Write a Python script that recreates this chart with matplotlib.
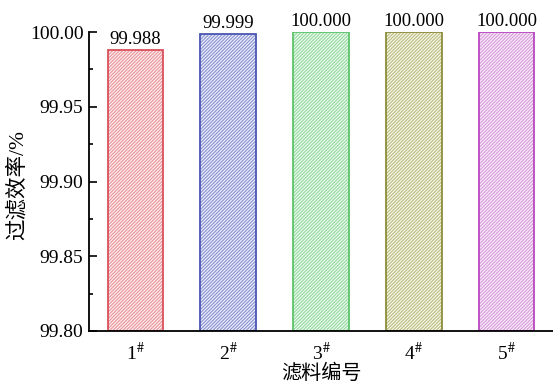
import matplotlib
matplotlib.use("Agg")
import matplotlib.pyplot as plt

categories = ["1", "2", "3", "4", "5"]
values = [99.988, 99.999, 100.000, 100.000, 100.000]
labels = ["99.988", "99.999", "100.000", "100.000", "100.000"]
edge_colors = ["#d9505c", "#4b56b2", "#5cc46a", "#8c8c3c", "#b848c0"]
hatch_colors = ["#eb99a0", "#8d96d4", "#9adca4", "#c0c088", "#daa0de"]
fill_colors = ["#fcf2f3", "#f3f4fb", "#f1faf2", "#f9f9ee", "#fbf1fb"]
yticks = [99.80, 99.85, 99.90, 99.95, 100.00]

plt.rcParams['font.family'] = ['Liberation Serif', 'Noto Sans CJK SC']
plt.rcParams['mathtext.fontset'] = 'stix'
plt.rcParams['hatch.linewidth'] = 0.9

fig = plt.figure(figsize=(5.53, 3.86), dpi=100)
ax = fig.add_axes([0.161, 0.1425, 0.839, 0.7745])

x = list(range(1, len(categories) + 1))
base = 99.80
heights = [v - base for v in values]
for xi, h, ec, hc, fc in zip(x, heights, edge_colors, hatch_colors, fill_colors):
    ax.bar(xi, h, bottom=base, width=0.6, facecolor=fc, edgecolor=hc,
           hatch='/' * 10, linewidth=0)
    ax.bar(xi, h, bottom=base, width=0.6, facecolor='none', edgecolor=ec,
           linewidth=1.3)

for xi, v, lab in zip(x, values, labels):
    ax.text(xi, v + 0.0012, lab, ha='center', va='bottom', fontsize=13.5)

ax.set_xlim(0.5, 5.5)
ax.set_ylim(99.80, 100.00)
ax.set_yticks(yticks)
ax.set_yticklabels([f"{t:.2f}" for t in yticks], fontsize=14)
ax.set_yticks([99.825, 99.875, 99.925, 99.975], minor=True)
ax.tick_params(axis='y', which='major', direction='in', length=6, width=1.2, pad=4)
ax.tick_params(axis='y', which='minor', direction='in', length=3, width=1.2)
ax.set_xticks(x)
ax.set_xticklabels([c + r'$^{\#}$' for c in categories], fontsize=14)
ax.tick_params(axis='x', length=0, pad=8)

for s in ['top', 'right']:
    ax.spines[s].set_visible(False)
ax.spines['left'].set_linewidth(1.3)
ax.spines['bottom'].set_linewidth(1.3)

ax.set_ylabel("过滤效率/%", fontsize=15.5)
ax.yaxis.set_label_coords(-0.133, 0.49)
ax.set_xlabel("滤料编号", fontsize=14.5, labelpad=0)

fig.savefig("out.png", dpi=100)
